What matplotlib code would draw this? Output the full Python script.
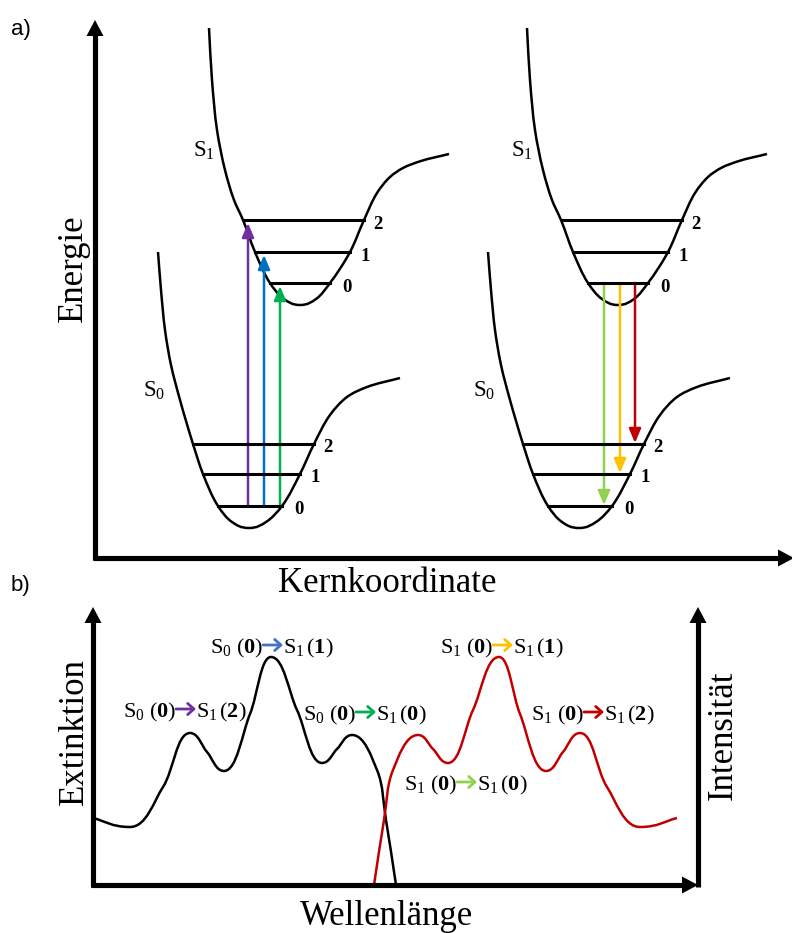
import numpy as np
import matplotlib
matplotlib.use("Agg")
import matplotlib.pyplot as plt
from matplotlib.path import Path
from matplotlib.patches import PathPatch, Polygon, FancyArrowPatch

plt.rcParams['mathtext.fontset'] = 'custom'
plt.rcParams['mathtext.rm'] = 'Liberation Serif'
plt.rcParams['mathtext.bf'] = 'Liberation Serif:bold'
plt.rcParams['mathtext.it'] = 'Liberation Serif:italic'

SERIF = 'Liberation Serif'
SANS = 'Liberation Sans'

#%% Daten (Pixelkoordinaten, y nach unten)
# Potentialkurve S1 (linkes Schema), rechtes Schema verschoben
s1_x = [209, 212, 217, 225, 234, 243, 255, 270, 284, 300, 316, 330, 350, 364, 377, 390, 403, 421, 449]
s1_y = [28, 80, 130, 170, 200, 220, 252, 283, 299, 305, 299, 283, 252, 220, 193, 177, 168, 161, 154]
s1_levels_y = [283, 252, 220]
s1_levels_l = [270, 255, 244]
s1_levels_r = [330, 350, 364]

# Potentialkurve S0
s0_x = [158, 161, 165, 171, 180, 193, 203, 218, 232, 249, 266, 282, 300, 314, 330, 347, 367, 400]
s0_y = [252, 290, 330, 365, 400, 444, 474, 506, 522, 528, 522, 506, 474, 444, 415, 397, 387, 378]
s0_levels_y = [506, 474, 444]
s0_levels_l = [218, 203, 193]
s0_levels_r = [282, 300, 314]

level_names = ['0', '1', '2']
shift_s1 = 318
shift_s0 = 330

# Uebergaenge (Absorption links, Emission rechts)
abs_arrow_x = [248, 264, 280]
abs_arrow_lvl = [2, 1, 0]
abs_colors = ['#7030A0', '#0070C0', '#00B050']
em_arrow_x = [604, 620, 635]
em_arrow_lvl = [0, 1, 2]
em_colors = ['#92D050', '#FFC000', '#C00000']

# Spektren
abs_x = [93, 130, 163, 190, 207, 224, 250, 271, 297, 322, 337, 352, 377, 386, 396]
abs_y = [818, 827, 787, 733, 752, 771, 714, 657, 710, 763, 749, 735, 770, 820, 885]
em_x = [374, 384, 393, 418, 433, 448, 473, 499, 520, 546, 563, 580, 607, 640, 677]
em_y = [885, 820, 770, 735, 749, 763, 710, 657, 714, 771, 752, 733, 787, 827, 818]

# Beschriftungen der Banden
band_left = [r'$\mathrm{S}_0\ (\mathbf{0})$', r'$\mathrm{S}_0\ (\mathbf{0})$', r'$\mathrm{S}_0\ (\mathbf{0})$',
             r'$\mathrm{S}_1\ (\mathbf{0})$', r'$\mathrm{S}_1\ (\mathbf{0})$', r'$\mathrm{S}_1\ (\mathbf{0})$']
band_right = [r'$\mathrm{S}_1\,(\mathbf{2})$', r'$\mathrm{S}_1\,(\mathbf{1})$', r'$\mathrm{S}_1\,(\mathbf{0})$',
              r'$\mathrm{S}_1\,(\mathbf{0})$', r'$\mathrm{S}_1\,(\mathbf{1})$', r'$\mathrm{S}_1\,(\mathbf{2})$']
band_x = [186, 273, 366, 467, 503, 594]
band_y = [717, 653, 720, 790, 653, 720]
band_colors = ['#7030A0', '#4472C4', '#00B050', '#92D050', '#FFC000', '#C00000']


#%% Hilfsfunktionen
def smooth_path(xs, ys, dx=0):
    # Bezier-Kurve durch alle Punkte, Extrema mit waagrechter Tangente
    p = np.column_stack([np.asarray(xs, float) + dx, np.asarray(ys, float)])
    n = len(p)
    t = np.zeros_like(p)
    ext = np.zeros(n, bool)
    t[0] = p[1] - p[0]
    t[-1] = p[-1] - p[-2]
    for i in range(1, n - 1):
        a = (p[i] - p[i - 1]) / np.hypot(*(p[i] - p[i - 1]))
        b = (p[i + 1] - p[i]) / np.hypot(*(p[i + 1] - p[i]))
        t[i] = a + b
        if (p[i, 1] - p[i - 1, 1]) * (p[i + 1, 1] - p[i, 1]) < 0:
            t[i] = [1.0, 0.0]
            ext[i] = True
    t = t / np.hypot(t[:, 0], t[:, 1])[:, None]

    def handle(i, j):
        if ext[i]:
            return 0.5 * abs(p[j, 0] - p[i, 0])
        return 0.33 * np.hypot(*(p[j] - p[i]))

    verts = [p[0]]
    codes = [Path.MOVETO]
    for i in range(n - 1):
        verts += [p[i] + t[i] * handle(i, i + 1), p[i + 1] - t[i + 1] * handle(i + 1, i), p[i + 1]]
        codes += [Path.CURVE4] * 3
    return Path(verts, codes)


def axis_arrow(x0, y0, x1, y1, head=16, half=8.5):
    d = np.array([x1 - x0, y1 - y0], float)
    u = d / np.hypot(*d)
    nrm = np.array([-u[1], u[0]])
    base = np.array([x1, y1]) - u * head
    ax.plot([x0, base[0] + u[0]], [y0, base[1] + u[1]], color='k', lw=3.7, solid_capstyle='butt')
    ax.add_patch(Polygon([(x1, y1), base + nrm * half, base - nrm * half], closed=True, color='k', lw=0))


def transition(x, y0, y1, color):
    ax.add_patch(FancyArrowPatch((x, y0), (x, y1), arrowstyle='-|>,head_length=0.85,head_width=0.36',
                                 mutation_scale=10, color=color, lw=1.8, shrinkA=0, shrinkB=0))


#%% Figur
fig = plt.figure(figsize=(7.92, 9.33), dpi=100)
ax = fig.add_axes([0, 0, 1, 1])
ax.set_xlim(0, 792)
ax.set_ylim(933, 0)
ax.axis('off')

# a) Potentialschema
ax.text(11, 30, 'a)', fontsize=16, family=SANS, va='center', ha='left')
axis_arrow(95, 560, 95, 20)
axis_arrow(93, 558, 794, 558)
ax.text(82, 268, 'Energie', fontsize=25, family=SERIF, rotation=90, rotation_mode='anchor',
        ha='center', va='baseline')
ax.text(387, 592, 'Kernkoordinate', fontsize=25, family=SERIF, ha='center', va='baseline')

lbl_dx = [12, 10, 9]
for dx1, dx0 in [(0, 0), (shift_s1, shift_s0)]:
    ax.add_patch(PathPatch(smooth_path(s1_x, s1_y, dx1), fc='none', ec='k', lw=1.8))
    ax.add_patch(PathPatch(smooth_path(s0_x, s0_y, dx0), fc='none', ec='k', lw=1.8))
    for i in range(3):
        ax.plot([s1_levels_l[i] + dx1, s1_levels_r[i] + dx1], [s1_levels_y[i]] * 2, color='k', lw=2.2)
        ax.text(s1_levels_r[i] + dx1 + lbl_dx[i], s1_levels_y[i] + 9, level_names[i], fontsize=13.5,
                family=SERIF, weight='bold', ha='left', va='baseline')
        ax.plot([s0_levels_l[i] + dx0, s0_levels_r[i] + dx0], [s0_levels_y[i]] * 2, color='k', lw=2.2)
        ax.text(s0_levels_r[i] + dx0 + lbl_dx[i], s0_levels_y[i] + 8, level_names[i], fontsize=13.5,
                family=SERIF, weight='bold', ha='left', va='baseline')
    ax.text(193 + dx1, 157, r'$\mathrm{S}_1$', fontsize=16.5, ha='left', va='baseline')
    ax.text(145 + dx0 - 2, 397, r'$\mathrm{S}_0$', fontsize=16.5, ha='left', va='baseline')

for x, lvl, c in zip(abs_arrow_x, abs_arrow_lvl, abs_colors):
    transition(x, s0_levels_y[0], s1_levels_y[lvl] + 3, c)
for x, lvl, c in zip(em_arrow_x, em_arrow_lvl, em_colors):
    transition(x, s1_levels_y[0], s0_levels_y[lvl] - 1, c)

# b) Spektren
ax.text(11, 585, 'b)', fontsize=16, family=SANS, va='center', ha='left')
axis_arrow(93, 887, 93, 607)
axis_arrow(91, 885, 698, 885)
axis_arrow(698, 887, 698, 607)
ax.text(83, 732, 'Extinktion', fontsize=25, family=SERIF, rotation=90, rotation_mode='anchor',
        ha='center', va='baseline')
ax.text(732, 735, 'Intensität', fontsize=25, family=SERIF, rotation=90, rotation_mode='anchor',
        ha='center', va='baseline')
ax.text(386, 925, 'Wellenlänge', fontsize=25, family=SERIF, ha='center', va='baseline')

ax.add_patch(PathPatch(smooth_path(abs_x, abs_y), fc='none', ec='k', lw=1.8))
ax.add_patch(PathPatch(smooth_path(em_x, em_y), fc='none', ec='#C00000', lw=1.8))

for tl, tr, cx, by, c in zip(band_left, band_right, band_x, band_y, band_colors):
    ax.text(cx - 10, by, tl, fontsize=16, ha='right', va='baseline')
    ax.text(cx + 10, by, tr, fontsize=16, ha='left', va='baseline')
    ax.annotate('', xy=(cx + 10, by - 8), xytext=(cx - 10, by - 8),
                arrowprops=dict(arrowstyle='->,head_length=0.45,head_width=0.4', color=c, lw=2.0,
                                shrinkA=0, shrinkB=0))

fig.savefig('out.png', dpi=100)
